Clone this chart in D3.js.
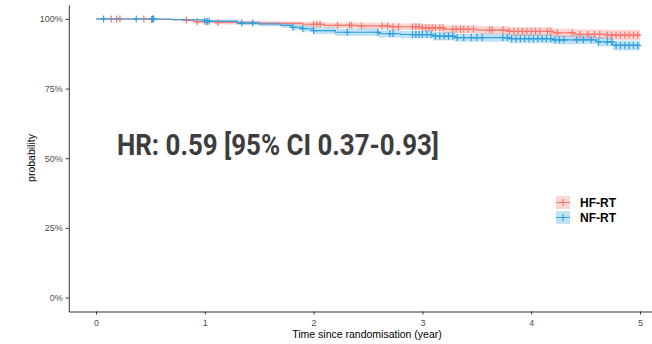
<!DOCTYPE html>
<meta charset="utf-8">
<style>
    body { margin: 0; background: #fff; }
    svg { font-family: "Liberation Sans", Arial, sans-serif; }
    .tick text { fill: #4d4d4d; font-size: 9px; }
    .axis path, .axis line { stroke: #333; }
</style>
<body>
<script src="https://cdn.jsdelivr.net/npm/d3@7"></script>
<script>

    // Kaplan-Meier steps
    var redTime  = [0, 0.5, 0.8, 0.9, 1.1, 1.5, 1.9, 2.1, 2.4, 2.7, 3.0, 3.2, 3.5, 3.8, 4.2, 4.4, 4.7, 5.0];
    var redSurv  = [1, .998, .995, .990, .987, .984, .981, .977, .975, .972, .968, .963, .960, .955, .950, .945, .942, .942];
    var redLower = [1, .996, .991, .984, .980, .976, .972, .967, .964, .960, .955, .949, .945, .939, .934, .928, .924, .924];
    var redUpper = [1, 1, .999, .996, .994, .992, .990, .987, .986, .984, .981, .977, .975, .971, .966, .962, .960, .960];

    var blueTime  = [0, 0.7, 1.0, 1.3, 1.5, 1.7, 1.8, 1.9, 2.0, 2.2, 2.6, 2.8, 3.1, 3.3, 3.8, 4.2, 4.6, 4.75, 5.0];
    var blueSurv  = [1, .997, .992, .985, .982, .977, .970, .965, .958, .952, .947, .944, .938, .933, .929, .925, .918, .905, .905];
    var blueLower = [1, .994, .987, .978, .974, .968, .960, .954, .946, .939, .933, .930, .923, .918, .913, .909, .901, .887, .887];
    var blueUpper = [1, 1, .997, .992, .990, .986, .980, .976, .970, .965, .961, .958, .953, .948, .945, .941, .935, .923, .923];

    // censoring times
    var redCensor = [0.14, 0.19, 0.22, 0.44, 0.51, 0.83, 0.93, 1.02, 1.12, 2.0, 2.03, 2.06, 2.22, 2.33, 2.35, 2.44,
        2.63, 2.68, 2.73, 2.78, 2.91, 2.94, 2.97, 3.0, 3.03, 3.06, 3.09, 3.12, 3.16, 3.19, 3.28, 3.31, 3.35, 3.38,
        3.42, 3.47, 3.62, 3.64, 3.74, 3.80, 3.84, 3.88, 3.92, 3.96, 4.0, 4.04, 4.08, 4.15, 4.18, 4.24, 4.38, 4.45,
        4.52, 4.58, 4.63, 4.70, 4.74, 4.78, 4.82, 4.86, 4.9, 4.94, 4.98];
    var blueCensor = [0.07, 0.37, 0.52, 0.53, 1.0, 1.02, 1.04, 1.34, 1.44, 1.81, 1.9, 2.0, 2.31, 2.59, 2.7, 2.73,
        2.91, 2.94, 2.97, 3.0, 3.04, 3.08, 3.12, 3.16, 3.2, 3.24, 3.28, 3.32, 3.38, 3.45, 3.5, 3.55, 3.74, 3.78,
        3.82, 3.86, 3.9, 3.94, 3.98, 4.02, 4.06, 4.1, 4.14, 4.18, 4.22, 4.26, 4.3, 4.42, 4.48, 4.55, 4.62, 4.70,
        4.74, 4.78, 4.82, 4.86, 4.9, 4.94, 4.98];

    var groups = ["HF-RT", "NF-RT"];
    var colors = ["#F8766D", "#2E9FDF"];
    var xTicks = [0, 1, 2, 3, 4, 5];
    var yTicks = [0, 0.25, 0.5, 0.75, 1];

    var series = [
        {name: groups[0], color: colors[0], time: redTime, surv: redSurv, lo: redLower, hi: redUpper, cens: redCensor},
        {name: groups[1], color: colors[1], time: blueTime, surv: blueSurv, lo: blueLower, hi: blueUpper, cens: blueCensor}
    ];

    var W = 652, H = 344;
    var x = d3.scaleLinear().domain([-0.25, 5.25]).range([68.8, 667.2]);
    var y = d3.scaleLinear().domain([-0.05, 1.05]).range([311.5, 5]);

    var svg = d3.select("body").append("svg")
            .attr("width", W)
            .attr("height", H);

    // axes
    svg.append("g")
            .attr("class", "axis")
            .attr("transform", "translate(0," + y.range()[0] + ")")
            .call(d3.axisBottom(x).tickValues(xTicks).tickFormat(d3.format("d"))
                    .tickSize(3).tickPadding(5).tickSizeOuter(0));

    svg.append("g")
            .attr("class", "axis")
            .attr("transform", "translate(" + x.range()[0] + ",0)")
            .call(d3.axisLeft(y).tickValues(yTicks).tickFormat(d3.format(".0%")).tickSize(3).tickPadding(3).tickSizeOuter(0));

    function stepVal(s, t) {
        var i = d3.bisectRight(s.time, t) - 1;
        return s.surv[Math.max(0, i)];
    }

    var area = d3.area()
            .curve(d3.curveStepAfter)
            .x(function(d) { return x(d.t); })
            .y0(function(d) { return y(d.lo); })
            .y1(function(d) { return y(d.hi); });

    var line = d3.line()
            .curve(d3.curveStepAfter)
            .x(function(d) { return x(d.t); })
            .y(function(d) { return y(d.s); });

    series.forEach(function(s) {
        var pts = s.time.map(function(t, i) { return {t: t, s: s.surv[i], lo: s.lo[i], hi: s.hi[i]}; });
        svg.append("path").datum(pts)
                .attr("d", area)
                .attr("fill", s.color)
                .attr("fill-opacity", 0.3);
    });

    series.forEach(function(s) {
        var pts = s.time.map(function(t, i) { return {t: t, s: s.surv[i]}; });
        svg.append("path").datum(pts)
                .attr("d", line)
                .attr("fill", "none")
                .attr("stroke", s.color)
                .attr("stroke-width", 1.1);

        svg.append("g").selectAll("path")
                .data(s.cens)
                .join("path")
                .attr("transform", function(t) { return "translate(" + x(t) + "," + y(stepVal(s, t)) + ")"; })
                .attr("d", "M-3.5,0H3.5M0,-3.5V3.5")
                .attr("stroke", s.color)
                .attr("stroke-width", 1.2);
    });

    // HR annotation
    svg.append("text")
            .attr("x", 117)
            .attr("y", 155)
            .attr("textLength", 322)
            .attr("lengthAdjust", "spacingAndGlyphs")
            .style("font-family", "Roboto, 'Liberation Sans', sans-serif")
            .style("font-weight", "bold")
            .style("font-size", "30px")
            .style("fill", "#3d3d3d")
            .text("HR: 0.59 [95% CI 0.37-0.93]");

    // axis titles
    svg.append("text")
            .attr("x", 367)
            .attr("y", 338)
            .attr("text-anchor", "middle")
            .style("font-size", "10.5px")
            .text("Time since randomisation (year)");

    svg.append("text")
            .attr("transform", "translate(35,158) rotate(-90)")
            .attr("text-anchor", "middle")
            .style("font-size", "10.5px")
            .text("probability");

    // legend
    var leg = svg.append("g").attr("transform", "translate(556,196)");
    series.forEach(function(s, i) {
        var g = leg.append("g").attr("transform", "translate(0," + (i * 15) + ")");
        g.append("rect").attr("width", 14).attr("height", 13)
                .attr("fill", s.color).attr("fill-opacity", 0.3);
        g.append("path").attr("d", "M0,6.5H14M7,3V10")
                .attr("stroke", s.color).attr("stroke-width", 1.1);
        g.append("text").attr("x", 24).attr("y", 11)
                .style("font-weight", "bold")
                .style("font-size", "12px")
                .text(s.name);
    });

</script>
